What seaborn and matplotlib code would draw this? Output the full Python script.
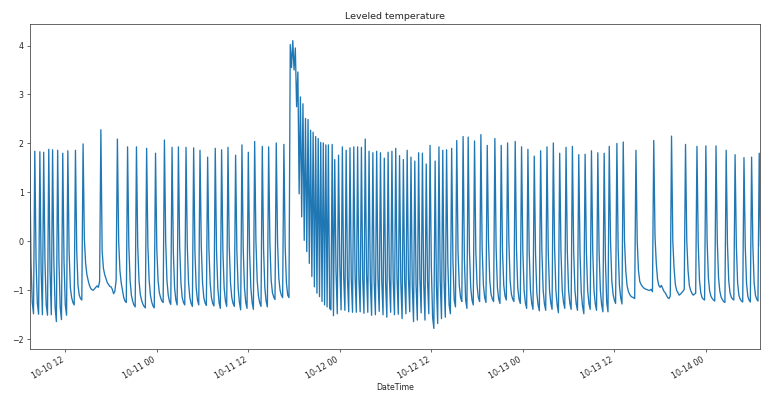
import matplotlib
matplotlib.use("Agg")
import matplotlib.pyplot as plt
import matplotlib.dates as mdates
import pandas as pd
import seaborn as sns

# Logger samples every 10 minutes starting at this time
start_time = "2016-10-10 07:20"
sample_step = "10min"

# Levelled readings before the surge (regular heating cycles)
before_surge = [
    1.84, -0.40, -1.25, -1.48,
    1.84, -0.40, -1.26, -1.49,
    1.83, -0.60, -1.50,
    1.82, -0.40, -1.30, -1.51,
    1.88, -0.60, -1.50,
    1.87, -0.40, -1.35, -1.64,
    1.86, -0.40, -1.35, -1.60,
    1.80, -0.40, -1.30, -1.51,
    1.85, -0.20, -0.95, -1.15, -1.25, -1.30,
    1.86, -0.20, -0.90, -1.10, -1.17, -1.20,
    1.99, 0.05, -0.45, -0.68, -0.80, -0.90, -0.96, -0.99, -1.00, -0.97, -0.94, -0.91, -0.94, -0.82,
    2.28, -0.20, -0.55, -0.68, -0.76, -0.84, -0.88, -0.92, -0.93, -0.98, -1.07, -1.02, -0.80,
    2.09, 0.00, -0.60, -0.85, -1.00, -1.15, -1.22, -1.25,
    1.93, -0.10, -0.80, -1.10, -1.22, -1.30, -1.34,
    1.93, -0.10, -0.80, -1.08, -1.20, -1.28, -1.33, -1.36,
    1.90, -0.10, -0.80, -1.10, -1.24, -1.32, -1.36,
    1.80, -0.15, -0.80, -1.05, -1.15, -1.22, -1.25,
    2.07, 0.00, -0.80, -1.10, -1.23, -1.29,
    1.92, -0.20, -0.95, -1.20, -1.30,
    1.93, -0.10, -0.85, -1.15, -1.25, -1.30,
    1.92, -0.10, -0.85, -1.15, -1.27, -1.33,
    1.91, -0.20, -0.95, -1.20, -1.30,
    1.86, -0.10, -0.85, -1.15, -1.26, -1.31,
    1.72, -0.15, -0.85, -1.15, -1.27, -1.32,
    1.90, -0.20, -0.95, -1.25, -1.37,
    1.87, -0.20, -0.95, -1.22, -1.33,
    1.92, -0.10, -0.85, -1.15, -1.27, -1.33,
    1.76, -0.20, -0.95, -1.25, -1.40,
    1.97, -0.15, -0.95, -1.25, -1.37,
    1.82, -0.20, -0.95, -1.25, -1.39,
    2.04, 0.00, -0.80, -1.12, -1.26, -1.33,
    1.94, -0.15, -0.95, -1.22, -1.34,
    1.93, -0.05, -0.80, -1.05, -1.14, -1.19,
    2.01, 0.00, -0.75, -1.00, -1.10, -1.15,
    1.98, -0.10, -0.85, -1.10, -1.15,
]

# The surge and the fast cycling right after it
surge = [
    4.02, 3.55, 4.10, 3.50, 3.95, 2.75, 3.46,
    0.97, 2.95, 0.50, 2.81, 0.02, 2.51, -0.21, 2.49, -0.45, 2.27, -0.72,
    2.23, -0.93, 2.14, -1.06, 2.10, -1.13, 2.02, -1.23, 2.01, -1.30,
    1.97, -1.34, 1.97, -1.37, -1.40,
    1.98, -1.52, 1.67, -0.60, -1.48, 1.76, -0.50, -1.40,
]

# Cycles after the surge until the end of the record
after_surge = [
    1.93, -0.70, -1.41,
    1.86, -0.75, -1.44,
    1.91, -0.75, -1.45,
    1.93, -0.70, -1.45,
    1.93, -0.75, -1.44,
    1.92, -0.75, -1.47,
    2.09, -0.65, -1.45,
    1.84, -0.80, -1.51,
    1.81, -0.80, -1.50,
    1.84, -0.75, -1.43,
    1.81, -0.80, -1.50,
    1.70, -0.85, -1.55,
    1.82, -0.75, -1.45,
    1.84, -0.80, -1.50,
    1.90, -0.75, -1.49,
    1.75, -0.85, -1.58,
    1.67, -0.80, -1.48,
    1.86, -0.75, -1.44,
    1.72, -0.90, -1.64,
    1.64, -0.90, -1.61,
    1.81, -0.75, -1.46,
    1.80, -0.85, -1.61,
    1.58, -0.80, -1.48,
    1.96, -0.50, -1.55, -1.78,
    1.64, -0.90, -1.68,
    1.93, -0.80, -1.58,
    1.86, -0.80, -1.55,
    1.87, -0.45, -1.30, -1.48,
    1.90, -0.40, -1.20, -1.34,
    2.06, -0.20, -0.90, -1.15, -1.23,
    2.14, -0.35, -1.20, -1.37,
    2.13, -0.20, -0.95, -1.20, -1.30,
    2.05, -0.20, -0.90, -1.15, -1.23,
    2.18, -0.15, -0.90, -1.15, -1.25,
    1.96, 0.00, -0.80, -1.08, -1.18, -1.23,
    2.10, -0.15, -0.95, -1.18, -1.27,
    1.96, -0.20, -0.90, -1.12, -1.20,
    2.01, 0.00, -0.80, -1.08, -1.18, -1.23,
    2.04, -0.15, -0.95, -1.18, -1.27,
    1.93, -0.20, -1.00, -1.26, -1.37,
    1.88, -0.20, -1.00, -1.27, -1.39,
    1.74, -0.25, -1.05, -1.30, -1.42,
    1.85, -0.20, -1.00, -1.28, -1.41,
    1.93, -0.20, -1.00, -1.26, -1.39,
    2.01, -0.15, -1.00, -1.30, -1.46,
    1.80, -0.20, -1.00, -1.25, -1.37,
    1.92, -0.20, -1.00, -1.27, -1.39,
    1.94, -0.20, -1.00, -1.28, -1.41,
    1.77, -0.25, -1.05, -1.33, -1.48,
    1.78, -0.20, -1.00, -1.27, -1.39,
    1.85, -0.20, -1.00, -1.28, -1.41,
    1.81, -0.20, -1.00, -1.30, -1.44,
    1.80, -0.40, -1.25, -1.44,
    1.94, 0.00, -0.80, -1.08, -1.20, -1.27,
    2.00, -0.15, -0.90, -1.15, -1.28,
    2.03, 0.00, -0.60, -0.90, -1.02, -1.08, -1.12, -1.14, -1.15, -1.17,
    1.86, 0.00, -0.60, -0.82, -0.88, -0.92, -0.95, -0.97, -0.98, -0.99, -1.00, -1.00, -0.98, -1.03,
    2.06, 0.10, -0.45, -0.78, -0.90, -0.94, -0.90, -0.96, -1.02, -1.05, -1.10, -1.15, -1.17, -1.12,
    2.15, 0.00, -0.55, -0.88, -1.00, -1.05, -1.10, -1.08, -1.05, -1.02, -0.98,
    1.98, 0.00, -0.60, -0.90, -1.00, -1.06, -1.10, -1.08, -1.06,
    1.94, -0.05, -0.80, -1.05, -1.15, -1.18, -1.20,
    1.95, 0.00, -0.75, -1.02, -1.12, -1.17, -1.20, -1.22,
    1.95, 0.00, -0.75, -1.02, -1.14, -1.19, -1.23, -1.25,
    1.86, -0.05, -0.80, -1.05, -1.14, -1.18, -1.20,
    1.77, -0.10, -0.85, -1.10, -1.18, -1.22, -1.24,
    1.71, -0.10, -0.85, -1.12, -1.20, -1.24,
    1.72, -0.10, -0.85, -1.10, -1.18, -1.22,
    1.80, -0.10,
]

title = "Leveled temperature"
x_label = "DateTime"
y_ticks = [-2, -1, 0, 1, 2, 3, 4]

values = before_surge + surge + after_surge
stamps = pd.date_range(start_time, periods=len(values), freq=sample_step)
df = pd.DataFrame({"DateTime": stamps, "temperature": values})

plt.rcParams["font.family"] = "DejaVu Sans"
plt.rcParams["font.size"] = 5.7
plt.rcParams["axes.linewidth"] = 0.6
plt.rcParams["axes.edgecolor"] = "0.3"
plt.rcParams["xtick.color"] = "0.3"
plt.rcParams["ytick.color"] = "0.3"
plt.rcParams["xtick.labelcolor"] = "0.15"
plt.rcParams["ytick.labelcolor"] = "0.15"

W, H = 761, 394
fig = plt.figure(figsize=(W / 100, H / 100), dpi=100)
left, right, top, bottom = 29.7, 760.5, 24, 349
ax = fig.add_axes([left / W, 1 - bottom / H, (right - left) / W, (bottom - top) / H])

sns.lineplot(data=df, x="DateTime", y="temperature", ax=ax,
             color="#1f77b4", linewidth=0.95, estimator=None)

ax.set_xlim(stamps[0], stamps[-1])
ax.set_ylim(-2.2, 4.44)
ax.set_yticks(y_ticks)
ax.xaxis.set_major_locator(mdates.HourLocator(byhour=[0, 12]))
ax.xaxis.set_major_formatter(mdates.DateFormatter("%m-%d %H"))
ax.tick_params(length=2.2, width=0.6, pad=2)
for lbl in ax.get_xticklabels():
    lbl.set_rotation(30)
    lbl.set_ha("right")

ax.set_title(title, fontsize=6.8, pad=3.5, color="0.15")
ax.set_xlabel(x_label, labelpad=2, color="0.15")
ax.set_ylabel("")

fig.savefig("out.png", dpi=100)
